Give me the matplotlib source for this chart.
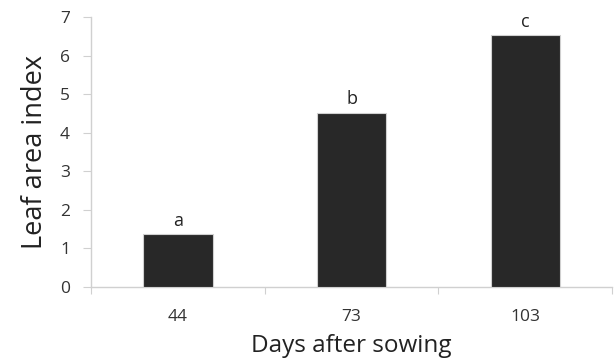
import matplotlib.pyplot as plt

plt.rcParams['font.family'] = ['Open Sans', 'DejaVu Sans']

days = ['44', '73', '103']
lai = [1.37, 4.52, 6.53]
letters = ['a', 'b', 'c']

fig = plt.figure(figsize=(6.14, 3.62), dpi=100)
ax = fig.add_axes([0.148, 0.207, 0.849, 0.746])

x = range(len(days))
bars = ax.bar(x, lai, width=0.4, color='#282828', edgecolor='#d0d0d0', linewidth=0.8, zorder=3)
for rect, lab in zip(bars, letters):
    ax.text(rect.get_x() + rect.get_width() / 2, rect.get_height() + 0.12, lab,
            ha='center', va='bottom', fontsize=13, color='#222222')

ax.set_xlim(-0.5, 2.5)
ax.set_ylim(0, 7)
ax.set_yticks(range(0, 8))
ax.set_xticks([-0.5, 0.5, 1.5, 2.5], minor=False)
ax.set_xticklabels([])
ax.set_xticks(list(x), minor=True)
ax.set_xticklabels(days, minor=True)
ax.tick_params(axis='x', which='minor', length=0, pad=16, labelsize=12.5, labelcolor='#333333')
ax.tick_params(axis='x', which='major', length=5, color='#d0d0d0', direction='out')
ax.tick_params(axis='y', length=6, color='#d0d0d0', labelsize=12.5, labelcolor='#333333', pad=9)

for side in ['top', 'right']:
    ax.spines[side].set_visible(False)
for side in ['left', 'bottom']:
    ax.spines[side].set_color('#d0d0d0')
    ax.spines[side].set_linewidth(1.0)

ax.set_ylabel('Leaf area index', fontsize=19.5, color='#222222', labelpad=8)
ax.set_xlabel('Days after sowing', fontsize=17.5, color='#222222', labelpad=6)

fig.savefig('out.png', dpi=100)
